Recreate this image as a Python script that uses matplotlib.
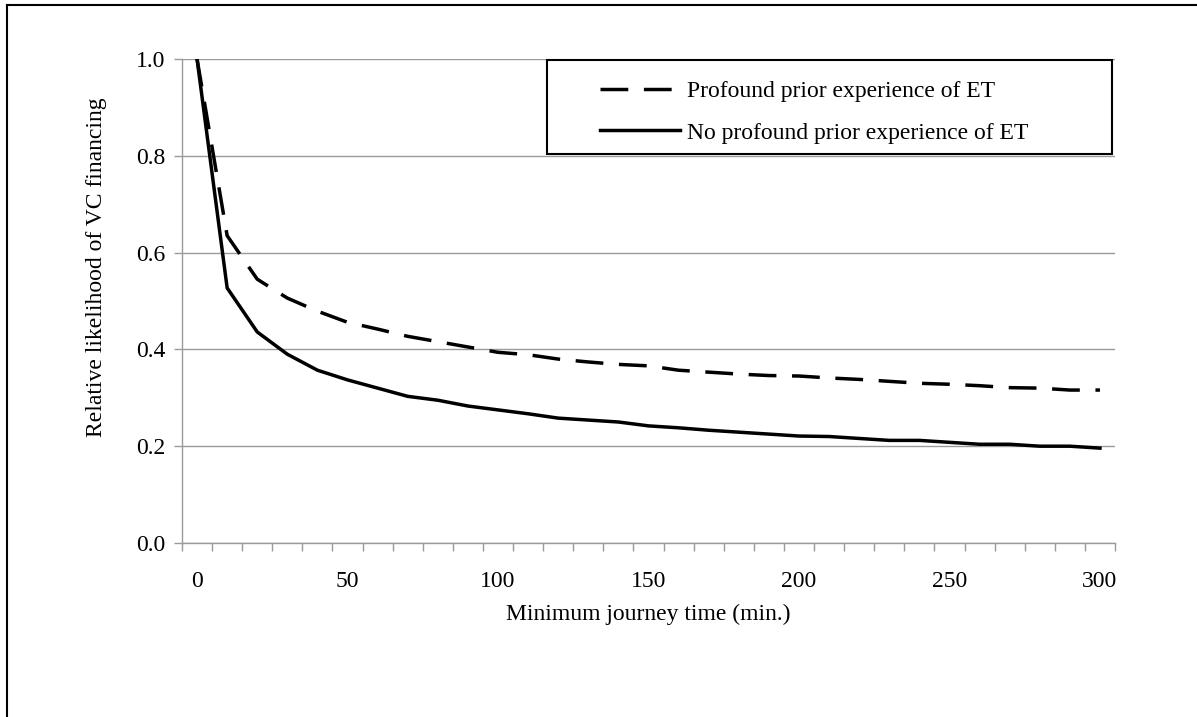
import numpy as np
import matplotlib.pyplot as plt
from matplotlib.lines import Line2D
from matplotlib.patches import Rectangle

plt.rcParams['font.family'] = ['Liberation Serif', 'DejaVu Serif']

# Minimum journey time (min.), Kategorien 0..300
journey = list(range(0, 310, 10))

# Profound prior experience of ET (gestrichelt)
profound = [1.0, 0.635, 0.545, 0.506, 0.479, 0.456, 0.442, 0.427, 0.416, 0.405,
            0.394, 0.389, 0.380, 0.374, 0.369, 0.366, 0.357, 0.353, 0.349, 0.346,
            0.345, 0.341, 0.338, 0.334, 0.330, 0.328, 0.325, 0.321, 0.320, 0.316,
            0.316]

# No profound prior experience of ET (durchgezogen)
no_profound = [1.0, 0.527, 0.436, 0.390, 0.357, 0.337, 0.320, 0.303, 0.295, 0.283,
               0.275, 0.267, 0.258, 0.254, 0.250, 0.242, 0.238, 0.233, 0.229, 0.225,
               0.221, 0.220, 0.216, 0.212, 0.212, 0.208, 0.204, 0.204, 0.200, 0.200,
               0.196]

labels = ['Profound prior experience of ET', 'No profound prior experience of ET']
x_ticks = [0, 50, 100, 150, 200, 250, 300]
y_ticks = [0.0, 0.2, 0.4, 0.6, 0.8, 1.0]

W, H = 1197, 717
fs = 17
fig = plt.figure(figsize=(W / 100, H / 100), dpi=100)
ax = fig.add_axes([182 / W, 1 - 543 / H, (1115 - 182) / W, (543 - 59) / H])

grau = '#9a9a9a'
ax.plot(journey, profound, color='black', lw=2.5, dashes=(8, 4.5), label=labels[0])
ax.plot(journey, no_profound, color='black', lw=2.5, label=labels[1])

ax.set_xlim(-5, 305)
ax.set_ylim(0, 1)
ax.set_yticks(y_ticks)
ax.set_yticklabels([f'{v:.1f}' for v in y_ticks])
ax.set_xticks(x_ticks)
ax.set_xticks(np.arange(-5, 306, 10), minor=True)
ax.tick_params(axis='x', which='major', length=0, pad=20, labelsize=fs)
ax.tick_params(axis='x', which='minor', length=6, color=grau, width=1)
ax.tick_params(axis='y', length=6, color=grau, width=1, pad=6, labelsize=fs)

ax.grid(axis='y', color=grau, lw=1)
ax.set_axisbelow(True)
for s in ['top', 'right']:
    ax.spines[s].set_visible(False)
for s in ['left', 'bottom']:
    ax.spines[s].set_color(grau)
    ax.spines[s].set_linewidth(1)

ax.set_xlabel('Minimum journey time (min.)', fontsize=fs, labelpad=9)
ax.set_ylabel('Relative likelihood of VC financing', fontsize=fs)
ax.yaxis.set_label_coords(-0.08, 0.57)

# Legende
leg = ax.legend(loc='upper left', bbox_to_anchor=((600 - 182) / 933 - 0.01, 0.975),
                frameon=False, fontsize=fs, handlelength=3.4, handletextpad=0.3,
                labelspacing=0.85, borderaxespad=0)
ax.add_patch(Rectangle(((547 - 182) / 933, (543 - 154) / 484),
                       (1112 - 547) / 933, (154 - 60) / 484,
                       transform=ax.transAxes, fill=False, ec='black', lw=1.5,
                       clip_on=False, zorder=5))

# Rahmen (links und oben)
fig.add_artist(Line2D([7 / W, 7 / W], [0, 1 - 5 / H], color='black', lw=1.5))
fig.add_artist(Line2D([7 / W, 1], [1 - 5 / H, 1 - 5 / H], color='black', lw=1.5))

fig.savefig('out.png', dpi=100)
